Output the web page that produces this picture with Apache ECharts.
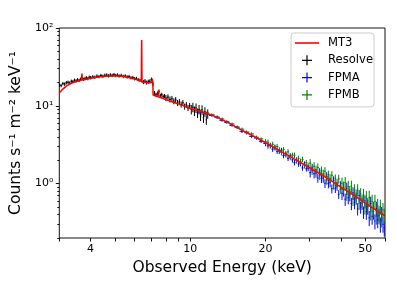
<!DOCTYPE html>
<html><head><meta charset="utf-8">
<script src="https://cdn.jsdelivr.net/npm/echarts@6/dist/echarts.min.js"></script>
<style>html,body{margin:0;padding:0;background:#fff}#c{width:397px;height:283px}</style>
</head><body><div id="c"></div>
<script>
// ---- data (energies in keV, values in counts s^-1 m^-2 keV^-1) ----
const modelE = [3.0,3.1,3.2,3.3,3.4,3.5,3.6,3.68,3.695,3.71,
  3.8,4.0,4.3,4.6,4.9,5.2,5.5,5.8,6.1,
  6.38,6.40,6.42,6.6,6.9,
  7.03,7.06,7.09,7.11,7.3,
  7.45,7.47,7.49,7.7,8.0,
  8.5,9.0,9.5,10,11,
  12,13,14,16,18,
  20,25,30,35,40,
  45,50,55,60];
const modelV = [14.6,16.4,17.9,19.0,19.9,20.5,21.0,21.3,26.0,21.4,
  21.8,22.6,23.5,24.0,24.2,24.1,23.6,22.8,21.8,
  20.8,70,20.2,19.9,19.8,
  19.9,22.3,20.3,13.8,13.4,
  13.1,15.9,13.0,12.6,12.0,
  11.2,10.5,9.9,9.3,8.45,
  7.75,6.95,6.2,4.9,4.03,
  3.35,2.24,1.6,1.19,0.90,
  0.71,0.56,0.46,0.386];

const resolveE = [3.00,3.05,3.10,3.15,3.20,3.25,3.30,3.35,3.40,3.45,
  3.50,3.55,3.60,3.65,3.70,3.75,3.80,3.85,3.90,3.95,
  4.00,4.08,4.16,4.24,4.32,4.40,4.48,4.56,4.64,4.72,
  4.80,4.88,4.96,5.04,5.12,5.20,5.30,5.40,5.50,5.60,
  5.70,5.80,5.90,6.00,6.10,6.20,6.30,6.50,6.60,6.70,
  6.80,6.90,7.00,7.10,7.20,7.30,7.40,7.50,7.60,7.70,
  7.80,7.90,8.00,8.15,8.30,8.45,8.60,8.75,8.90,9.05,
  9.20,9.35,9.50,9.65,9.80,9.95,10.10,10.25,10.40,10.55,
  10.70,10.85,11.00,11.15,11.30,11.45,11.60,11.75];
const resolveV = [18.6,18.2,19.3,19.0,19.8,20.1,19.6,20.7,20.5,21.3,
  20.9,21.6,21.2,22.0,22.6,21.9,22.5,22.9,22.4,23.3,
  23.0,23.6,23.3,24.1,23.8,24.5,24.0,24.7,24.9,24.3,
  25.0,24.6,25.2,24.5,24.9,24.2,24.6,23.9,24.2,23.5,
  23.8,22.9,23.1,22.3,22.5,21.6,21.3,20.2,20.8,19.9,
  20.4,20.7,21.8,19.0,14.6,13.9,14.4,15.3,13.5,13.9,
  13.1,13.4,12.6,12.9,12.1,12.3,11.5,11.9,10.9,11.2,
  10.4,10.9,9.8,10.3,9.4,10.0,9.0,9.6,8.6,9.4,
  8.1,9.0,7.4,8.9,7.0,8.4,6.6,7.9];
const resolveErr = [0.05,0.05,0.05,0.05,0.05,0.05,0.05,0.05,0.05,0.05,
  0.05,0.05,0.05,0.05,0.05,0.05,0.05,0.05,0.05,0.05,
  0.05,0.05,0.05,0.05,0.05,0.05,0.05,0.05,0.05,0.05,
  0.05,0.05,0.05,0.05,0.05,0.05,0.05,0.05,0.05,0.05,
  0.05,0.05,0.05,0.05,0.05,0.05,0.05,0.06,0.06,0.06,
  0.06,0.06,0.06,0.06,0.06,0.06,0.06,0.06,0.06,0.06,
  0.06,0.06,0.09,0.09,0.09,0.09,0.09,0.09,0.09,0.09,
  0.09,0.09,0.09,0.09,0.09,0.09,0.14,0.14,0.14,0.14,
  0.14,0.14,0.14,0.14,0.14,0.14,0.14,0.14];

const nuE = [11.0,11.6,12.2,12.8,13.4,14.0,14.7,15.4,16.1,16.8,17.6,18.4,19.2,
  20.0,20.45,20.9,21.35,21.8,22.25,22.7,23.15,23.6,24.1,24.6,25.1,25.6,26.1,26.6,27.1,27.6,28.1,28.6,29.1,29.6,
  30.15,30.7,31.25,31.8,32.35,32.9,33.45,34.0,34.55,35.1,35.65,36.2,36.8,37.4,38.0,38.6,39.2,39.8,
  40.4,41.0,41.6,42.2,42.8,43.4,44.05,44.7,45.35,46.0,46.65,47.3,47.95,48.6,49.25,49.9,
  50.55,51.2,51.9,52.6,53.3,54.0,54.7,55.4,56.1,56.8,57.5,58.2,58.9,59.6];
const fpmaV = [8.3,7.9,7.5,7.2,6.5,6.1,5.6,5.35,4.7,4.5,4.05,3.85,3.5,
  3.28,3.06,3.1,2.78,2.94,2.61,2.6,2.67,2.3,2.36,2.12,2.28,2.02,1.86,2.02,1.79,1.81,1.59,1.79,1.55,1.57,
  1.38,1.59,1.34,1.37,1.18,1.4,1.17,1.18,1.01,1.24,1.0,1.03,0.86,1.1,0.87,0.93,0.73,0.95,
  0.75,0.83,0.63,0.87,0.66,0.72,0.555,0.76,0.57,0.65,0.475,0.70,0.50,0.56,0.43,0.6,
  0.44,0.51,0.364,0.555,0.38,0.44,0.33,0.48,0.343,0.39,0.30,0.41,0.30,0.27];
const fpmbV = [8.6,8.1,7.7,7.05,6.8,6.3,5.85,5.25,5.0,4.6,4.35,3.95,3.75,
  3.45,3.41,3.07,3.2,2.88,3.0,2.73,2.51,2.73,2.43,2.56,2.17,2.32,2.32,1.96,2.12,1.94,2.05,1.7,1.86,1.72,
  1.83,1.48,1.67,1.51,1.61,1.28,1.47,1.34,1.44,1.11,1.3,1.17,1.28,0.96,1.16,1.02,1.15,0.85,
  1.01,0.9,1.03,0.73,0.92,0.79,0.925,0.63,0.83,0.71,0.83,0.56,0.74,0.61,0.725,0.486,
  0.66,0.535,0.665,0.43,0.59,0.48,0.59,0.38,0.52,0.42,0.51,0.35,0.46,0.39];
const nuErr = [0.04,0.04,0.04,0.04,0.04,0.04,0.04,0.04,0.05,0.05,0.05,0.05,0.05,
  0.08,0.08,0.08,0.08,0.08,0.08,0.08,0.08,0.08,0.08,0.08,0.08,0.08,0.08,0.08,0.08,0.08,0.08,0.08,0.08,0.08,
  0.13,0.13,0.13,0.13,0.13,0.13,0.13,0.13,0.13,0.13,0.13,0.13,0.13,0.13,0.13,0.13,0.13,0.13,
  0.18,0.18,0.18,0.18,0.18,0.18,0.18,0.18,0.18,0.18,0.18,0.18,0.18,0.18,0.18,0.18,
  0.22,0.22,0.22,0.22,0.22,0.22,0.22,0.22,0.22,0.22,0.22,0.22,0.22,0.22];

const xRange = [3, 60];
const yRange = [0.2, 100];
const xTickLabels = [4, 10, 20, 50];
const xTicks = [3,4,5,6,7,8,9,10,20,30,40,50,60];
const yMajor = [1, 10, 100];
const yMajorLabels = {'0':'10\u2070','1':'10\u00b9','2':'10\u00b2'};
const yMinor = [0.2,0.3,0.4,0.5,0.6,0.7,0.8,0.9,2,3,4,5,6,7,8,9,20,30,40,50,60,70,80,90];

// ---- build ----
const L = Math.log10;
const FONT = 'DejaVu Sans';
function errData(E, V, F) {
  return E.map((e, i) => {
    const lo = i > 0 ? Math.sqrt(E[i-1]*e) : e*e/Math.sqrt(e*E[i+1]);
    const hi = i < E.length-1 ? Math.sqrt(E[i+1]*e) : e*e/Math.sqrt(e*E[i-1]);
    return [L(e), L(V[i]), L(lo), L(hi), L(V[i]*(1-F[i])), L(V[i]*(1+F[i]))];
  });
}
function crossRender(color) {
  return function (params, api) {
    const l = api.coord([api.value(2), api.value(1)]);
    const r = api.coord([api.value(3), api.value(1)]);
    const b = api.coord([api.value(0), api.value(4)]);
    const t = api.coord([api.value(0), api.value(5)]);
    const st = {stroke: color, lineWidth: 1};
    return {type: 'group', children: [
      {type: 'line', shape: {x1: l[0], y1: l[1], x2: r[0], y2: r[1]}, style: st},
      {type: 'line', shape: {x1: b[0], y1: b[1], x2: t[0], y2: t[1]}, style: st}
    ]};
  };
}
const crossIcon = 'path://M0,0 M24,12 M7,5.4h10v1.2h-10z M11.4,1h1.2v10h-1.2z';
const lineIcon = 'path://M0,0 M24,12 M0,5.2h24v1.6h-24z';

const chart = echarts.init(document.getElementById('c'), null, {renderer: 'canvas'});
chart.setOption({
  animation: false,
  textStyle: {fontFamily: FONT},
  grid: {left: 59, top: 28, width: 326, height: 210, show: true, borderColor: '#111', borderWidth: 1, backgroundColor: 'transparent'},
  legend: {
    orient: 'vertical', left: 291, top: 33,
    padding: [4, 1, 6, 4], itemGap: 5.3, itemWidth: 24, itemHeight: 12,
    borderColor: '#cccccc', borderWidth: 1, borderRadius: 3, backgroundColor: 'rgba(255,255,255,0.8)',
    textStyle: {fontFamily: FONT, fontSize: 11.6, color: '#000', padding: [0, 0, 0, 4]},
    data: [
      {name: 'MT3', icon: lineIcon},
      {name: 'Resolve', icon: crossIcon},
      {name: 'FPMA', icon: crossIcon},
      {name: 'FPMB', icon: crossIcon}
    ]
  },
  xAxis: {
    type: 'value', min: L(xRange[0]), max: L(xRange[1]),
    axisLine: {show: false, onZero: false},
    axisTick: {show: true, length: 3.5, customValues: xTicks.map(L), lineStyle: {color: '#111'}},
    axisLabel: {customValues: xTickLabels.map(L), formatter: v => String(Math.round(Math.pow(10, v))),
      fontFamily: FONT, fontSize: 11, color: '#000', margin: 6},
    splitLine: {show: false},
    name: 'Observed Energy (keV)', nameLocation: 'middle', nameGap: 17,
    nameTextStyle: {fontFamily: FONT, fontSize: 15.5, color: '#000'}
  },
  yAxis: [{
    type: 'value', min: L(yRange[0]), max: L(yRange[1]),
    axisLine: {show: false, onZero: false},
    axisTick: {show: true, length: 3.5, customValues: yMajor.map(L), lineStyle: {color: '#111'}},
    axisLabel: {customValues: yMajor.map(L), formatter: v => yMajorLabels[String(Math.round(v))],
      fontFamily: FONT, fontSize: 11, color: '#000', margin: 6},
    splitLine: {show: false},
    name: 'Counts s\u207b\u00b9 m\u207b\u00b2 keV\u207b\u00b9', nameLocation: 'middle', nameGap: 31, nameRotate: 90,
    nameTextStyle: {fontFamily: FONT, fontSize: 15.5, color: '#000'}
  }, {
    type: 'value', min: L(yRange[0]), max: L(yRange[1]), position: 'left',
    axisLine: {show: false, onZero: false},
    axisTick: {show: true, length: 2, customValues: yMinor.map(L), lineStyle: {color: '#111'}},
    axisLabel: {show: false},
    splitLine: {show: false}
  }],
  series: [
    {name: 'Resolve', type: 'custom', clip: true, itemStyle: {color: '#000000'},
      renderItem: crossRender('#000000'), data: errData(resolveE, resolveV, resolveErr), z: 2},
    {name: 'FPMA', type: 'custom', clip: true, itemStyle: {color: '#0000ff'},
      renderItem: crossRender('#0000ff'), data: errData(nuE, fpmaV, nuErr), z: 3},
    {name: 'FPMB', type: 'custom', clip: true, itemStyle: {color: '#008000'},
      renderItem: crossRender('#008000'), data: errData(nuE, fpmbV, nuErr), z: 4},
    {name: 'MT3', type: 'line', showSymbol: false, clip: true, itemStyle: {color: '#ff0000'},
      lineStyle: {color: '#ff0000', width: 1.5}, data: modelE.map((e, i) => [L(e), L(modelV[i])]), z: 5}
  ]
});
</script></body></html>
